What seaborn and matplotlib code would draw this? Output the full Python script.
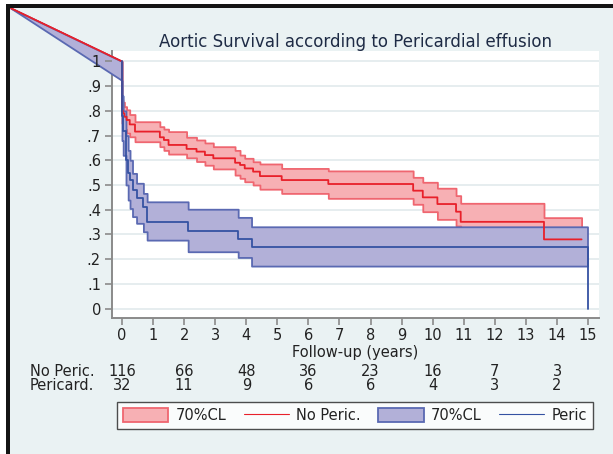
import numpy as np
import pandas as pd
import matplotlib
matplotlib.use("Agg")
import matplotlib.pyplot as plt
import matplotlib.transforms as mtransforms
from matplotlib.patches import Patch, Rectangle
from matplotlib.lines import Line2D
import seaborn as sns

# Kaplan-Meier estimate and 70% confidence limits, no pericardial effusion
red_time = [0, 0, 0.03, 0.08, 0.15, 0.25, 0.42, 1.22, 1.35, 1.5, 2.08, 2.4, 2.67,
            2.94, 3.64, 3.8, 3.95, 4.22, 4.44, 5.14, 6.64, 9.37, 9.68, 10.15,
            10.75, 10.9, 13.58]
red_surv = [1.0, 0.80, 0.79, 0.776, 0.763, 0.745, 0.716, 0.693, 0.682, 0.662,
            0.646, 0.635, 0.621, 0.608, 0.590, 0.581, 0.567, 0.554, 0.536, 0.520,
            0.504, 0.477, 0.450, 0.423, 0.392, 0.351, 0.280]
red_lo = [1.0, 0.75, 0.74, 0.725, 0.71, 0.695, 0.675, 0.655, 0.64, 0.625, 0.61,
          0.595, 0.58, 0.565, 0.540, 0.527, 0.513, 0.500, 0.483, 0.466, 0.446,
          0.422, 0.392, 0.361, 0.334, 0.30, 0.20]
red_hi = [1.0, 0.845, 0.835, 0.817, 0.804, 0.785, 0.756, 0.736, 0.726, 0.716,
          0.693, 0.682, 0.670, 0.655, 0.640, 0.621, 0.608, 0.594, 0.585, 0.567,
          0.557, 0.531, 0.511, 0.487, 0.457, 0.426, 0.368]
red_end = 14.79

# Kaplan-Meier estimate and 70% confidence limits, pericardial effusion
blue_time = [0, 0, 0.04, 0.13, 0.2, 0.26, 0.34, 0.47, 0.69, 0.81, 2.13, 3.74,
             4.17, 14.98]
blue_surv = [1.0, 0.78, 0.72, 0.60, 0.547, 0.52, 0.48, 0.446, 0.412, 0.351,
             0.315, 0.281, 0.248, 0.0]
blue_lo = [0.923, 0.68, 0.62, 0.50, 0.439, 0.405, 0.372, 0.345, 0.311, 0.277,
           0.230, 0.207, 0.172, 0.172]
blue_hi = [1.0, 0.86, 0.80, 0.70, 0.64, 0.60, 0.547, 0.507, 0.466, 0.432,
           0.402, 0.369, 0.331, 0.331]
blue_end = 14.98

# point the plotted series are joined from
origin_time = -3.57
origin_surv = 1.215

# numbers at risk
risk_years = [0, 2, 4, 6, 8, 10, 12, 14]
risk_noperic = [116, 66, 48, 36, 23, 16, 7, 3]
risk_peric = [32, 11, 9, 6, 6, 4, 3, 2]
row_labels = ["No Peric.", "Pericard."]

x_ticks = list(range(0, 16))
y_ticks = [0, 0.1, 0.2, 0.3, 0.4, 0.5, 0.6, 0.7, 0.8, 0.9, 1.0]
y_ticklabels = ["0", ".1", ".2", ".3", ".4", ".5", ".6", ".7", ".8", ".9", "1"]

BG = "#eaf2f3"
RED_FILL, RED_EDGE, RED_LINE = "#f7b0b4", "#ef6670", "#e8202a"
BLUE_FILL, BLUE_EDGE, BLUE_LINE = "#b2b0d8", "#5a69b2", "#3552a2"
TXT = "#222222"

sns.set_theme(style="white")
plt.rcParams["font.family"] = ["DejaVu Sans"]


def step_path(t, vals, end, lead=False):
    """Expand step-function data into a drawable path."""
    xs = [t[0]]
    ys = [vals[0]]
    for i in range(1, len(t)):
        xs += [t[i], t[i]]
        ys += [vals[i - 1], vals[i]]
    xs.append(end)
    ys.append(vals[-1])
    if lead:
        xs = [origin_time] + xs
        ys = [origin_surv] + ys
    return np.array(xs, float), np.array(ys, float)


fig = plt.figure(figsize=(6.13, 4.54), dpi=100)
fig.patch.set_facecolor(BG)
W, H = 613.0, 454.0

ax = fig.add_axes([112 / W, 1 - 318 / H, (599 - 112) / W, (318 - 51) / H])
ax.set_facecolor("white")
ax.set_xlim(-0.32, 15.35)
ax.set_ylim(-0.038, 1.042)

# horizontal grid
for yv in y_ticks:
    ax.axhline(yv, color="#e6edef", lw=1.4, zorder=0.5)

# confidence bands
rx, rlo = step_path(red_time, red_lo, red_end, lead=True)
_, rhi = step_path(red_time, red_hi, red_end, lead=True)
ax.fill_between(rx, rlo, rhi, facecolor=RED_FILL, edgecolor=RED_EDGE,
                linewidth=1.3, zorder=2, clip_on=False)

bx, blo = step_path(blue_time, blue_lo, blue_end, lead=True)
_, bhi = step_path(blue_time, blue_hi, blue_end, lead=True)
ax.fill_between(bx, blo, bhi, facecolor=BLUE_FILL, edgecolor=BLUE_EDGE,
                linewidth=1.3, zorder=3, clip_on=False)

# survival curves
lx, ly = step_path(red_time, red_surv, red_end, lead=True)
red_df = pd.DataFrame({"t": lx, "s": ly})
sns.lineplot(data=red_df, x="t", y="s", sort=False, estimator=None,
             color=RED_LINE, lw=1.3, ax=ax, zorder=4, clip_on=False)
lx, ly = step_path(blue_time, blue_surv, blue_end)
blue_df = pd.DataFrame({"t": lx, "s": ly})
sns.lineplot(data=blue_df, x="t", y="s", sort=False, estimator=None,
             color=BLUE_LINE, lw=1.3, ax=ax, zorder=5, clip_on=False)

# axes styling
for side in ["top", "right"]:
    ax.spines[side].set_visible(False)
for side in ["left", "bottom"]:
    ax.spines[side].set_color("#8a8a8a")
    ax.spines[side].set_linewidth(1.4)
ax.set_xticks(x_ticks)
ax.set_xticklabels([str(v) for v in x_ticks])
ax.set_yticks(y_ticks)
ax.set_yticklabels(y_ticklabels)
ax.tick_params(axis="both", which="both", direction="out", length=5, width=1.2,
               color="#8a8a8a", labelsize=10.5, labelcolor=TXT, pad=3,
               left=True, bottom=True)
ax.tick_params(axis="x", pad=2.5)
ax.yaxis.set_zorder(6)
ax.set_ylabel("")
ax.set_xlabel("Follow-up (years)", fontsize=10.5, color=TXT)
ax.xaxis.set_label_coords(0.5, (318 - 353) / 267.0)
ax.xaxis.label.set_va("center")

ax.set_title("Aortic Survival according to Pericardial effusion",
             fontsize=12, color="#1e2b45", pad=0)
ax.title.set_position((0.5, 1 + (51 - 40) / 267.0))
ax.title.set_va("center")

# numbers-at-risk table
trans = mtransforms.blended_transform_factory(ax.transData, fig.transFigure)
for row_y, label, counts in [(371, row_labels[0], risk_noperic),
                             (386, row_labels[1], risk_peric)]:
    fy = 1 - row_y / H
    fig.text(30 / W, fy, label, ha="left", va="center", fontsize=10.5, color=TXT)
    for yr, n in zip(risk_years, counts):
        ax.text(yr, fy, str(n), transform=trans, ha="center", va="center",
                fontsize=10.5, color=TXT, clip_on=False)

# legend
handles = [
    Patch(facecolor=RED_FILL, edgecolor=RED_EDGE, linewidth=1.3, label="70%CL"),
    Line2D([], [], color=RED_LINE, lw=0.8, label="No Peric."),
    Patch(facecolor=BLUE_FILL, edgecolor=BLUE_EDGE, linewidth=1.3, label="70%CL"),
    Line2D([], [], color=BLUE_LINE, lw=0.8, label="Peric"),
]
leg = fig.legend(handles=handles, ncol=4, loc="lower left",
                 bbox_to_anchor=(117 / W, 1 - 429 / H, (593 - 117) / W, 27 / H),
                 mode="expand", frameon=True, fancybox=False, fontsize=10.5,
                 handlelength=3.1, handleheight=1.05, handletextpad=0.5,
                 columnspacing=0.8, borderpad=0.4, borderaxespad=0)
leg.get_frame().set_edgecolor("#222222")
leg.get_frame().set_linewidth(1.0)
leg.get_frame().set_facecolor("white")
for t in leg.get_texts():
    t.set_color(TXT)

# outer frame: white margin and dark rule at top and left
fig.add_artist(Rectangle((0, 0), 6 / W, 1, transform=fig.transFigure,
                         facecolor="white", edgecolor="none", zorder=10))
fig.add_artist(Rectangle((0, 1 - 4 / H), 1, 4 / H, transform=fig.transFigure,
                         facecolor="white", edgecolor="none", zorder=10))
fig.add_artist(Rectangle((6 / W, 0), 4 / W, 1 - 4 / H, transform=fig.transFigure,
                         facecolor="#141414", edgecolor="none", zorder=11))
fig.add_artist(Rectangle((6 / W, 1 - 8 / H), 1 - 6 / W, 4 / H,
                         transform=fig.transFigure, facecolor="#141414",
                         edgecolor="none", zorder=11))

fig.savefig("out.png", dpi=100, facecolor=fig.get_facecolor())
